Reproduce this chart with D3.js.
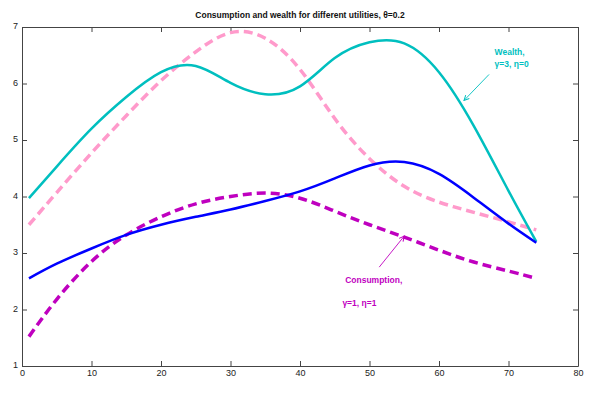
<!DOCTYPE html>
<html>
<head>
<meta charset="utf-8">
<script src="https://cdn.jsdelivr.net/npm/d3@7"></script>
<style>
  body { margin: 0; background: #fff; }
  svg { display: block; font-family: "Liberation Sans", Arial, sans-serif; }
</style>
</head>
<body>
<div id="chart"></div>
<script>
(function() {"use strict";

    // period (age) grid shared by every series
    var periods = [1, 5, 10, 15, 20, 25, 30, 35, 40, 45, 50, 55, 60, 65, 70, 74];

    // wealth, gamma=3, eta=0 (solid teal)
    var wealthG3 = [3.97, 4.53, 5.20, 5.76, 6.20, 6.31, 6.01, 5.81, 5.95, 6.45, 6.73, 6.71, 6.20, 5.25, 4.10, 3.20];
    // wealth, gamma=1, eta=1 (dashed pink)
    var wealthG1 = [3.50, 4.07, 4.77, 5.43, 6.05, 6.56, 6.90, 6.80, 6.25, 5.38, 4.67, 4.18, 3.90, 3.72, 3.55, 3.41];
    // consumption, gamma=3, eta=0 (solid blue)
    var consG3   = [2.55, 2.81, 3.08, 3.32, 3.50, 3.64, 3.77, 3.92, 4.09, 4.32, 4.55, 4.61, 4.40, 3.98, 3.52, 3.18];
    // consumption, gamma=1, eta=1 (dashed magenta)
    var consG1   = [1.52, 2.18, 2.85, 3.32, 3.64, 3.87, 4.00, 4.06, 3.97, 3.74, 3.50, 3.28, 3.05, 2.84, 2.68, 2.55];

    var xTicks = [0, 10, 20, 30, 40, 50, 60, 70, 80];
    var yTicks = [1, 2, 3, 4, 5, 6, 7];

    var title = "Consumption and wealth for different utilities,  \u03b8=0.2";

    var W = 600, H = 397,
        margin = {top: 27, right: 22, bottom: 31, left: 22},
        width  = W - margin.left - margin.right,
        height = H - margin.top - margin.bottom;

    var svg = d3.select("#chart").append("svg")
        .attr("width", W)
        .attr("height", H);

    svg.append("rect").attr("width", W).attr("height", H).attr("fill", "#fff");

    var g = svg.append("g")
        .attr("transform", "translate(" + margin.left + "," + margin.top + ")");

    // Scales
    var x = d3.scaleLinear().domain([0, 80]).range([0, width]),
        y = d3.scaleLinear().domain([1, 7]).range([height, 0]);

    // Axes (ticks point inward, like the matlab box)
    var axisStyle = function(sel) {
        sel.selectAll("path.domain").attr("stroke", "#444");
        sel.selectAll(".tick line").attr("stroke", "#444");
        sel.selectAll(".tick text")
            .attr("fill", "#222")
            .style("font-size", "9px");
    };

    g.append("g")
        .attr("transform", "translate(0," + height + ")")
        .call(d3.axisBottom(x).tickValues(xTicks).tickFormat(d3.format("d"))
            .tickSizeInner(-5).tickSizeOuter(0).tickPadding(4))
        .call(axisStyle);

    g.append("g")
        .call(d3.axisLeft(y).tickValues(yTicks).tickFormat(d3.format("d"))
            .tickSizeInner(-5).tickSizeOuter(0).tickPadding(4))
        .call(axisStyle)
        .selectAll(".tick text").attr("dy", "0.2em");

    g.append("g")
        .call(d3.axisTop(x).tickValues(xTicks).tickSizeInner(-5).tickSizeOuter(0).tickFormat(""))
        .call(axisStyle);

    g.append("g")
        .attr("transform", "translate(" + width + ",0)")
        .call(d3.axisRight(y).tickValues(yTicks).tickSizeInner(-5).tickSizeOuter(0).tickFormat(""))
        .call(axisStyle);

    // Lines
    var line = d3.line()
        .x(function(d) { return x(d[0]); })
        .y(function(d) { return y(d[1]); })
        .curve(d3.curveNatural);

    var series = [
        {values: wealthG1, color: "#ff9acb", width: 3.5, dash: "9,5"},
        {values: consG1,   color: "#bf00bf", width: 3.5, dash: "9,5"},
        {values: wealthG3, color: "#00bfbf", width: 2.5, dash: null},
        {values: consG3,   color: "#0000ff", width: 2.5, dash: null}
    ];

    series.forEach(function(s) {
        g.append("path")
            .datum(periods.map(function(p, i) { return [p, s.values[i]]; }))
            .attr("fill", "none")
            .attr("stroke", s.color)
            .attr("stroke-width", s.width)
            .attr("stroke-dasharray", s.dash)
            .attr("d", line);
    });

    // Title
    svg.append("text")
        .attr("x", margin.left + width / 2)
        .attr("y", 18)
        .attr("text-anchor", "middle")
        .style("font-size", "8.5px")
        .style("font-weight", "bold")
        .attr("fill", "#111")
        .text(title);

    // Annotations with arrows
    var defs = svg.append("defs");
    function arrowMarker(id, color) {
        defs.append("marker")
            .attr("id", id)
            .attr("viewBox", "0 0 10 10")
            .attr("refX", 9).attr("refY", 5)
            .attr("markerWidth", 7).attr("markerHeight", 7)
            .attr("orient", "auto")
            .append("path")
            .attr("d", "M1,1 L9,5 L1,9")
            .attr("fill", "none")
            .attr("stroke", color)
            .attr("stroke-width", 1.6);
    }
    arrowMarker("arrowTeal", "#00bfbf");
    arrowMarker("arrowMag", "#bf00bf");

    var notes = [
        {lines: ["Wealth,", "\u03b3=3, \u03b7=0"], tx: [68.0, 68.0], ty: [6.55, 6.34],
         from: [67.2, 6.16], to: [63.6, 5.70], color: "#00bfbf", marker: "arrowTeal"},
        {lines: ["Consumption,", "\u03b3=1, \u03b7=1"], tx: [46.5, 46.1], ty: [2.53, 2.11],
         from: [51.4, 2.75], to: [55.0, 3.30], color: "#bf00bf", marker: "arrowMag"}
    ];

    notes.forEach(function(n) {
        g.append("line")
            .attr("x1", x(n.from[0])).attr("y1", y(n.from[1]))
            .attr("x2", x(n.to[0])).attr("y2", y(n.to[1]))
            .attr("stroke", n.color)
            .attr("stroke-width", 0.9)
            .attr("marker-end", "url(#" + n.marker + ")");
        n.lines.forEach(function(t, i) {
            g.append("text")
                .attr("x", x(n.tx[i]))
                .attr("y", y(n.ty[i]))
                .attr("dy", "0.35em")
                .attr("fill", n.color)
                .style("font-size", "8.5px")
                .style("font-weight", "bold")
                .text(t);
        });
    });

})();
</script>
</body>
</html>
